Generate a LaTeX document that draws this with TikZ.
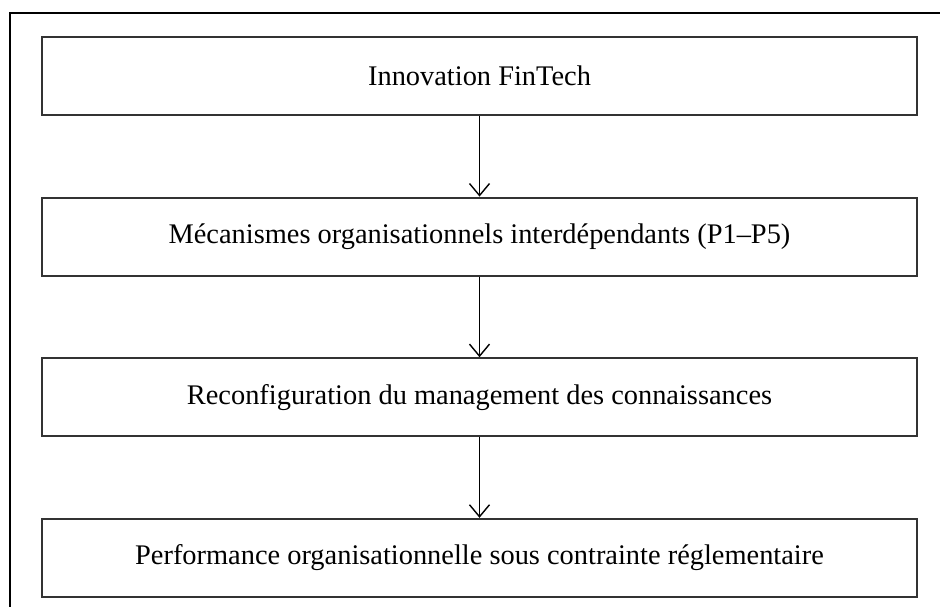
\documentclass[tikz,border=0pt]{standalone}
\usepackage{fontspec}
\setmainfont{Liberation Serif}
\usetikzlibrary{positioning}
\usetikzlibrary{arrows.meta}
\tikzstyle{stage} = [rectangle, draw=black!80, line width=1pt, fill=white,
minimum width=437.5pt, minimum height=39pt, inner sep=0pt,
font=\fontsize{14.2}{17}\selectfont, node distance=40.3pt]
\tikzstyle{frame} = [draw=black, line width=0.9pt]
\tikzset{>={Straight Barb[length=6pt,width=10pt]}}

\begin{document}
\begin{tikzpicture}[x=0.5pt, y=-0.5pt]
  \useasboundingbox (0,0) rectangle (940,607);
  % outer frame, only top and left edges show
  \draw[frame] (940,13) -- (10,13) -- (10,607);

  \node[stage] (innov) at (479.5,76) {Innovation FinTech};
  \node[stage, below=of innov] (meca) {Mécanismes organisationnels interdépendants (P1–P5)};
  \node[stage, below=of meca] (reconf) {Reconfiguration du management des connaissances};
  \node[stage, below=of reconf] (perf) {Performance organisationnelle sous contrainte réglementaire};

  \draw[->, line width=0.7pt] (innov) -- (meca);
  \draw[->, line width=0.7pt] (meca) -- (reconf);
  \draw[->, line width=0.7pt] (reconf) -- (perf);
\end{tikzpicture}
\end{document}
